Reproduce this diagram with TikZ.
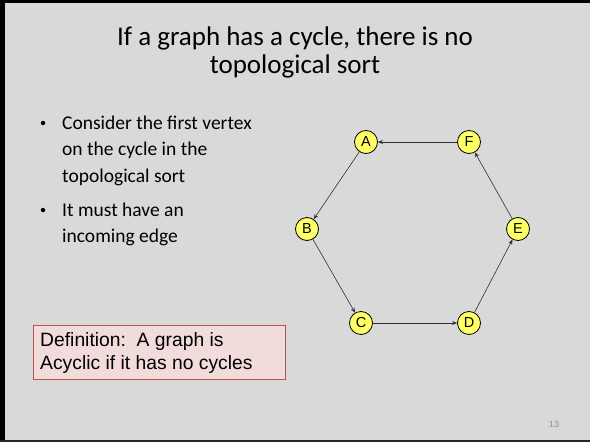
\documentclass[tikz,border=0pt]{standalone}
\usepackage{fontspec}
\setmainfont{Carlito}
\newfontfamily\arialf{Liberation Sans}
\usetikzlibrary{arrows.meta}
\definecolor{slidebg}{HTML}{D9D9D9}
\definecolor{vyellow}{HTML}{FFFF66}
\definecolor{defpink}{HTML}{F2DCDB}
\definecolor{defred}{HTML}{B85450}
\definecolor{edgegray}{HTML}{303030}
\tikzset{
  x=1pt,y=-1pt,
  vertex/.style={circle,draw=black,line width=0.8pt,fill=vyellow,minimum size=23pt,inner sep=0pt,font=\arialf\fontsize{14.5}{14.5}\selectfont},
  edge/.style={draw=edgegray,line width=0.6pt,-{Stealth[length=5pt,width=4pt]}},
  bodytext/.style={anchor=west,inner sep=0pt,font=\fontsize{19.5}{23}\selectfont},
  bulletdot/.style={circle,fill=black,inner sep=0pt,minimum size=4.5pt}
}
\begin{document}
\begin{tikzpicture}
\useasboundingbox (0,0) rectangle (590,442);
\fill[slidebg] (0,0) rectangle (590,442);
\fill[black] (0,0) rectangle (590,3);
\fill[black] (0,0) rectangle (5,442);
\fill[black!85] (0,440) rectangle (590,442);
% title
\node[font=\fontsize{27}{28}\selectfont,align=center] (title) at (295,52) {If a graph has a cycle, there is no\\topological sort};
% bullets
\node[bulletdot] (b1) at (43,123) {};
\node[bodytext] (t1) at (62,123) {Consider the first vertex};
\node[bodytext] (t2) at (62,150) {on the cycle in the};
\node[bodytext] (t3) at (62,177) {topological sort};
\node[bulletdot] (b2) at (43,210) {};
\node[bodytext] (t4) at (62,210) {It must have an};
\node[bodytext] (t5) at (62,237) {incoming edge};
% definition box
\node[draw=defred,line width=1.3pt,fill=defpink,anchor=north west,minimum width=252pt,minimum height=54pt,inner sep=0pt] (defbox) at (33,325) {};
\node[anchor=west,inner sep=0pt,align=left,font=\arialf\fontsize{19.3}{23}\selectfont] (deftext) at (40,353.5) {Definition:\ \ A graph is\\Acyclic if it has no cycles};
% vertices
\node[vertex] (A) at (366,142) {A};
\node[vertex] (F) at (469,142) {F};
\node[vertex] (B) at (307,229) {B};
\node[vertex] (E) at (518,229) {E};
\node[vertex] (C) at (361,323) {C};
\node[vertex] (D) at (469,323) {D};
\draw[edge] (A) -- (B);
\draw[edge] (B) -- (C);
\draw[edge] (C) -- (D);
\draw[edge] (D) -- (E);
\draw[edge] (E) -- (F);
\draw[edge] (F) -- (A);
% page number
\node[text=black!45,font=\arialf\fontsize{9}{9}\selectfont] (pnum) at (554,424) {13};
\end{tikzpicture}
\end{document}
